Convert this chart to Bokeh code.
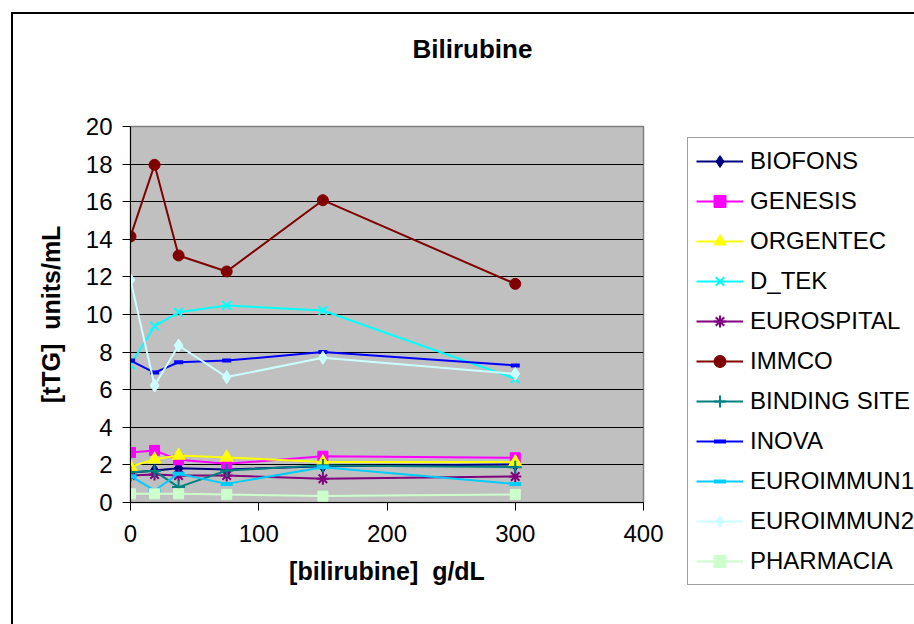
from bokeh.plotting import figure
from bokeh.models import FixedTicker, Legend, LegendItem, Range1d, Title
from bokeh.embed import file_html
from bokeh.resources import INLINE

# bilirubine concentrations (g/dL)
bilirubine = [0, 18.75, 37.5, 75, 150, 300]

# measured tTG (units/mL) per kit
biofons = [1.58, 1.70, 1.82, 1.76, 1.93, 2.02]
genesis = [2.66, 2.77, 2.27, 2.06, 2.46, 2.38]
orgentec = [1.90, 2.30, 2.50, 2.40, 2.15, 2.15]
d_tek = [7.32, 9.38, 10.12, 10.48, 10.21, 6.58]
eurospital = [1.44, 1.49, 1.44, 1.44, 1.26, 1.38]
immco = [14.15, 17.96, 13.14, 12.29, 16.08, 11.63]
binding_site = [1.61, 1.67, 0.82, 1.70, 1.97, 1.88]
inova = [7.55, 6.91, 7.46, 7.55, 8.00, 7.29]
euroimmun1 = [1.40, 0.64, 1.53, 0.99, 1.88, 0.99]
euroimmun2 = [11.84, 6.22, 8.35, 6.67, 7.70, 6.84]
pharmacia = [0.46, 0.46, 0.46, 0.43, 0.34, 0.43]

x_ticks = [0, 100, 200, 300, 400]
y_ticks = [0, 2, 4, 6, 8, 10, 12, 14, 16, 18, 20]

# name, values, colour, marker, marker size, marker line width, filled
series = [
    ("BIOFONS", biofons, "#000080", "diamond", 13, 1, True),
    ("GENESIS", genesis, "#FF00FF", "square", 10, 1, True),
    ("ORGENTEC", orgentec, "#FFFF00", "triangle", 13, 1, True),
    ("D_TEK", d_tek, "#00FFFF", "x", 12, 2, False),
    ("EUROSPITAL", eurospital, "#800080", "asterisk", 12, 2, False),
    ("IMMCO", immco, "#800000", "circle", 11, 1, True),
    ("BINDING SITE", binding_site, "#008080", "cross", 13, 2, False),
    ("INOVA", inova, "#0000FF", "dash", 9, 4, False),
    ("EUROIMMUN1", euroimmun1, "#00CCFF", "dash", 12, 4, False),
    ("EUROIMMUN2", euroimmun2, "#CCFFFF", "diamond", 13, 1, True),
    ("PHARMACIA", pharmacia, "#CCFFCC", "square", 10, 1, True),
]

FONT = "Liberation Sans"

# the chart sits inside a black frame whose corner is at (11, 12)
EDGE_X, EDGE_Y, EDGE_W = 11, 12, 2

p = figure(frame_width=513, frame_height=376, title=None,
           output_backend="svg", toolbar_location=None,
           x_range=Range1d(0, 400), y_range=Range1d(0, 20),
           min_border_left=130 - EDGE_X - EDGE_W, min_border_right=0,
           min_border_top=126 - EDGE_Y - EDGE_W, min_border_bottom=122)
p.styles = {
    "margin-left": f"{EDGE_X}px",
    "margin-top": f"{EDGE_Y}px",
    "border-left": f"{EDGE_W}px solid black",
    "border-top": f"{EDGE_W}px solid black",
}

p.background_fill_color = "#C0C0C0"
p.border_fill_color = "white"
p.outline_line_color = "#808080"
p.outline_line_width = 1.5

p.xgrid.visible = False
p.ygrid.grid_line_color = "black"
p.ygrid.grid_line_width = 1

p.xaxis.ticker = FixedTicker(ticks=x_ticks)
p.yaxis.ticker = FixedTicker(ticks=y_ticks)
for ax in (p.xaxis, p.yaxis):
    ax.axis_line_color = "black"
    ax.major_tick_line_color = "black"
    ax.minor_tick_line_color = None
    ax.major_tick_in = 0
    ax.major_tick_out = 8
    ax.major_label_text_font = FONT
    ax.major_label_text_font_size = "24px"
    ax.major_label_text_color = "black"
    ax.axis_label_text_font = FONT
    ax.axis_label_text_font_size = "25px"
    ax.axis_label_text_font_style = "bold"
    ax.axis_label_text_color = "black"

p.xaxis.axis_label = "[bilirubine] \u00a0g/dL"
p.yaxis.axis_label = "[tTG] \u00a0units/mL"
p.xaxis.major_label_standoff = 14
p.yaxis.major_label_standoff = 10
p.xaxis.axis_label_standoff = 12
p.yaxis.axis_label_standoff = 18

# an empty spacer panel keeps the heading well above the plot area
p.add_layout(Title(text=" ", text_font_size="1px", standoff=60), "above")
p.add_layout(Title(text="Bilirubine", align="left", offset=282, standoff=0,
                   text_font=FONT, text_font_size="26px",
                   text_font_style="bold", text_color="black"), "above")

items = []
for name, vals, color, marker, size, lw, filled in series:
    lr = p.line(bilirubine, vals, line_color=color, line_width=2)
    sr = p.scatter(bilirubine, vals, marker=marker, size=size,
                   line_color=color, line_width=lw,
                   fill_color=color if filled else None)
    items.append(LegendItem(label=name, renderers=[lr, sr]))

legend = Legend(items=items, location=(44, -83), margin=0, padding=8,
                spacing=10, glyph_width=47, glyph_height=30, label_height=26,
                label_standoff=7, label_text_font=FONT,
                label_text_font_size="24px", label_text_color="black",
                border_line_color="#404040", border_line_width=1.5,
                background_fill_color="white", background_fill_alpha=1)
p.add_layout(legend, "right")

open("out.html", "w").write(file_html(p, INLINE))
